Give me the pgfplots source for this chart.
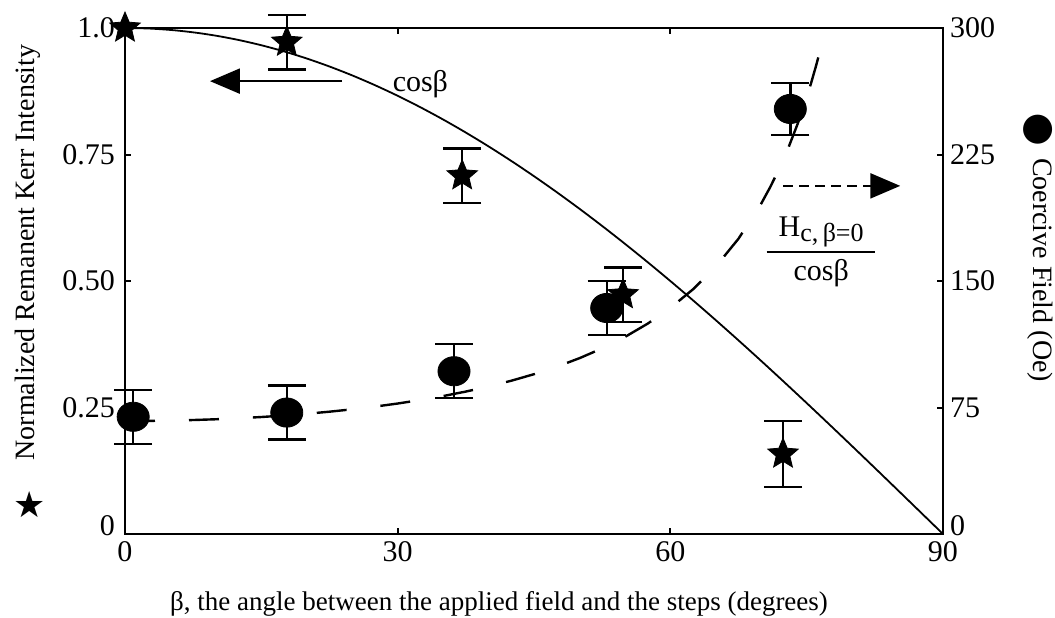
\documentclass[border=0pt]{standalone}
\usepackage{pgfplots}
\usepackage{pgfplotstable}
\pgfplotsset{compat=1.18}
\usepackage{fontspec}
\setmainfont{Liberation Serif}
\newfontfamily\symfont{DejaVu Sans}
\usetikzlibrary{arrows.meta}

% filled five-pointed star
\pgfdeclareplotmark{fstar}{%
  \pgfpathmoveto{\pgfpointpolar{90}{\pgfplotmarksize}}%
  \pgfpathlineto{\pgfpointpolar{126}{0.45*\pgfplotmarksize}}%
  \pgfpathlineto{\pgfpointpolar{162}{\pgfplotmarksize}}%
  \pgfpathlineto{\pgfpointpolar{198}{0.45*\pgfplotmarksize}}%
  \pgfpathlineto{\pgfpointpolar{234}{\pgfplotmarksize}}%
  \pgfpathlineto{\pgfpointpolar{270}{0.45*\pgfplotmarksize}}%
  \pgfpathlineto{\pgfpointpolar{306}{\pgfplotmarksize}}%
  \pgfpathlineto{\pgfpointpolar{342}{0.45*\pgfplotmarksize}}%
  \pgfpathlineto{\pgfpointpolar{18}{\pgfplotmarksize}}%
  \pgfpathlineto{\pgfpointpolar{54}{0.45*\pgfplotmarksize}}%
  \pgfpathclose
  \pgfusepathqfillstroke
}

% remanent Kerr intensity (left axis)
\pgfplotstableread{
beta  kerr   err
17.8  0.972  0.054
37.1  0.708  0.054
54.8  0.473  0.054
72.4  0.158  0.065
}\kerrdata

% coercive field (right axis)
\pgfplotstableread{
beta  hc     err
0.9   69.5   16
17.8  72.0   16
36.2  96.5   16
53.0  134.0  16
73.2  252.0  15.5
}\hcdata

% cos(beta)
\pgfplotstableread{
beta c
0 1
2.5 0.99905
5 0.99619
7.5 0.99144
10 0.98481
12.5 0.97630
15 0.96593
17.5 0.95372
20 0.93969
22.5 0.92388
25 0.90631
27.5 0.88701
30 0.86603
32.5 0.84339
35 0.81915
37.5 0.79335
40 0.76604
42.5 0.73728
45 0.70711
47.5 0.67559
50 0.64279
52.5 0.60876
55 0.57358
57.5 0.53730
60 0.50000
62.5 0.46175
65 0.42262
67.5 0.38268
70 0.34202
72.5 0.30071
75 0.25882
77.5 0.21644
80 0.17365
82.5 0.13053
85 0.08716
87.5 0.04362
90 0
}\costable

% H_c(beta=0)/cos(beta), H_c(beta=0) = 67 Oe
\pgfplotstableread{
beta h
0 67.00
2.5 67.06
5 67.26
7.5 67.58
10 68.03
12.5 68.63
15 69.36
17.5 70.25
20 71.30
22.5 72.52
25 73.93
27.5 75.53
30 77.36
32.5 79.44
35 81.79
37.5 84.45
40 87.46
42.5 90.87
45 94.75
47.5 99.17
50 104.23
52.5 110.06
55 116.81
57.5 124.70
60 134.00
62.5 145.10
65 158.53
67.5 175.08
70 195.89
71 205.79
72 216.81
72.5 222.80
73 229.16
74 243.07
75 258.87
75.5 267.59
76 276.95
76.5 287.00
77.1 300.00
}\hctheory

\begin{document}
\begin{tikzpicture}
\pgfplotsset{
  common/.style={
    at={(0,0)}, anchor=south west,
    scale only axis, width=409pt, height=253pt,
    xmin=0, xmax=90,
    tick align=inside, major tick length=3pt,
    every tick/.style={black, line width=1pt},
    axis line style={line width=1.1pt},
    tick label style={font=\fontsize{15}{15}\selectfont},
    clip=false,
  }
}
\begin{axis}[common, name=ax,
  ymin=0, ymax=1,
  xtick={0,30,60,90}, xticklabels={0,30,60,90},
  ytick={0,0.25,0.5,0.75,1}, yticklabels={\raisebox{8pt}{0},0.25,0.50,0.75,1.0},
  yticklabel style={xshift=-1.5pt},
  ytick pos=left, xtick pos=both, xticklabel pos=lower,
]
  \addplot[black, line width=0.9pt, smooth] table[x=beta, y=c] {\costable};
  \addplot[only marks, mark=fstar, mark size=8pt, black] coordinates {(0,1)};
  \addplot[only marks, mark=fstar, mark size=8pt, black,
    error bars/.cd, y dir=both, y explicit,
    error bar style={line width=1.2pt},
    error mark options={rotate=90, line width=1.2pt, mark size=9.5pt}]
    table[x=beta, y=kerr, y error=err] {\kerrdata};

  \draw[line width=1.2pt, -{Triangle[length=15pt, width=12.5pt]}]
    (axis cs:23.9,0.895) -- (axis cs:9.35,0.895);
  \draw[line width=1.2pt, dash pattern=on 5pt off 3pt, -{Triangle[length=15pt, width=12.5pt]}]
    (axis cs:72.4,0.688) -- (axis cs:85.3,0.688);
  \node[font=\fontsize{15}{15}\selectfont] at (axis cs:32.5,0.889) {cosβ};
  \node[font=\fontsize{15}{15}\selectfont] at (axis cs:76.6,0.597)
    {H\raisebox{-0.35ex}{\fontsize{13}{13}\selectfont c,\,β=0}};
  \draw[line width=1pt] (axis cs:70.6,0.557) -- (axis cs:82.5,0.557);
  \node[font=\fontsize{15}{15}\selectfont] at (axis cs:76.6,0.516) {cosβ};
\end{axis}

\begin{axis}[common,
  ymin=0, ymax=300,
  axis x line=none, axis y line*=right,
  ytick={0,75,150,225,300}, yticklabels={\raisebox{8pt}{0},75,150,225,300},
]
  \addplot[black, line width=1.2pt, dash pattern=on 15pt off 17pt] table[x=beta, y=h] {\hctheory};
  \addplot[only marks, mark=*, mark size=7.3pt, black, mark options={xscale=1.1},
    error bars/.cd, y dir=both, y explicit,
    error bar style={line width=1.2pt},
    error mark options={rotate=90, line width=1.2pt, mark size=9.5pt}]
    table[x=beta, y=hc, y error=err] {\hcdata};
\end{axis}

% axis titles
\node[font=\fontsize{13.5}{13.5}\selectfont, anchor=base]
  at ([shift={(187pt,-38pt)}]ax.south west)
  {β, the angle between the applied field and the steps (degrees)};
\node[font=\fontsize{14}{14}\selectfont, rotate=90, anchor=base]
  at ([shift={(-45pt,140.75pt)}]ax.south west)
  {Normalized Remanent Kerr Intensity};
\node[font=\symfont\fontsize{18}{18}\selectfont]
  at ([shift={(-47.5pt,14.5pt)}]ax.south west) {★};
\node[font=\fontsize{14}{14}\selectfont, rotate=-90]
  at ([shift={(457.5pt,132pt)}]ax.south west)
  {Coercive Field (Oe)};
\node[font=\symfont\fontsize{19}{19}\selectfont, inner sep=0pt]
  at ([shift={(456.5pt,202pt)}]ax.south west) {●};

\pgfresetboundingbox
\path (ax.south west) ++(-62.5pt,-41.5pt) rectangle ++(527.5pt,308.5pt);
\end{tikzpicture}
\end{document}
